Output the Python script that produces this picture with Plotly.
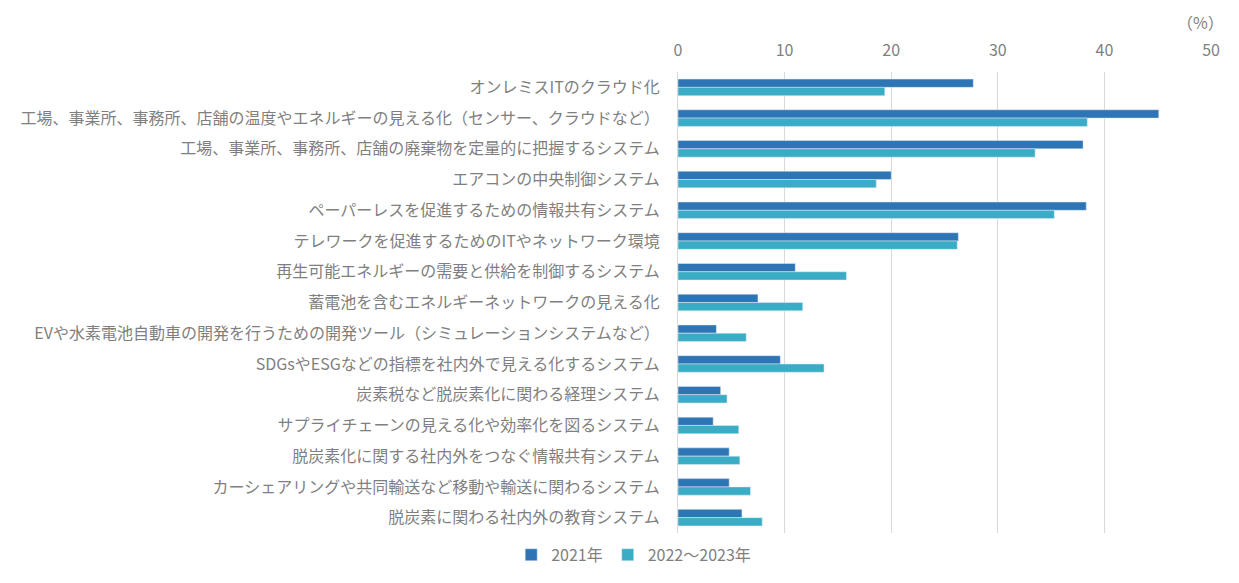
import plotly.graph_objects as go

categories = [
    "オンレミスITのクラウド化",
    "工場、事業所、事務所、店舗の温度やエネルギーの見える化（センサー、クラウドなど）",
    "工場、事業所、事務所、店舗の廃棄物を定量的に把握するシステム",
    "エアコンの中央制御システム",
    "ペーパーレスを促進するための情報共有システム",
    "テレワークを促進するためのITやネットワーク環境",
    "再生可能エネルギーの需要と供給を制御するシステム",
    "蓄電池を含むエネルギーネットワークの見える化",
    "EVや水素電池自動車の開発を行うための開発ツール（シミュレーションシステムなど）",
    "SDGsやESGなどの指標を社内外で見える化するシステム",
    "炭素税など脱炭素化に関わる経理システム",
    "サプライチェーンの見える化や効率化を図るシステム",
    "脱炭素化に関する社内外をつなぐ情報共有システム",
    "カーシェアリングや共同輸送など移動や輸送に関わるシステム",
    "脱炭素に関わる社内外の教育システム",
]
values_2021 = [27.7, 45.1, 38.0, 20.0, 38.3, 26.3, 11.0, 7.5, 3.6, 9.6, 4.0, 3.3, 4.8, 4.8, 6.0]
values_2022_2023 = [19.4, 38.4, 33.5, 18.6, 35.3, 26.2, 15.8, 11.7, 6.4, 13.7, 4.6, 5.7, 5.8, 6.8, 7.9]
series_names = ["2021年", "2022～2023年"]
x_ticks = [0, 10, 20, 30, 40, 50]

font_family = "Noto Sans CJK JP, Noto Sans, sans-serif"
grey = "#7f7f7f"

fig = go.Figure()
fig.add_trace(go.Bar(
    y=categories, x=values_2021, name=series_names[0],
    orientation="h", marker=dict(color="#2E75B6"),
))
fig.add_trace(go.Bar(
    y=categories, x=values_2022_2023, name=series_names[1],
    orientation="h", marker=dict(color="#3BACC6"),
))

fig.update_layout(
    width=1239, height=583,
    barmode="group",
    bargap=0.46,
    bargroupgap=0,
    plot_bgcolor="white",
    paper_bgcolor="white",
    margin=dict(l=670, r=36, t=64, b=58),
    font=dict(family=font_family, size=16, color=grey),
    legend=dict(
        orientation="h",
        xref="container", yref="container",
        x=0.505, xanchor="center", y=0.062, yanchor="middle",
        font=dict(size=16, color=grey),
        traceorder="normal",
    ),
    xaxis=dict(
        side="top", range=[0, 50], tickvals=x_ticks,
        showgrid=True, gridcolor="#d9d9d9", gridwidth=1,
        zeroline=False, showline=False,
        ticklabelstandoff=12, automargin=False,
        tickfont=dict(size=16, color=grey),
    ),
    yaxis=dict(
        autorange="reversed", showgrid=False, zeroline=False,
        showline=True, linecolor="#d9d9d9", linewidth=1,
        ticks="", ticklabelstandoff=14, automargin=False,
        tickfont=dict(size=16, color=grey),
    ),
    annotations=[dict(
        text="（%）", xref="paper", yref="paper", x=0.98, y=1.0,
        xanchor="center", yanchor="bottom", yshift=36, showarrow=False,
        font=dict(size=16, color=grey),
    )],
)

fig.write_html("out.html")
